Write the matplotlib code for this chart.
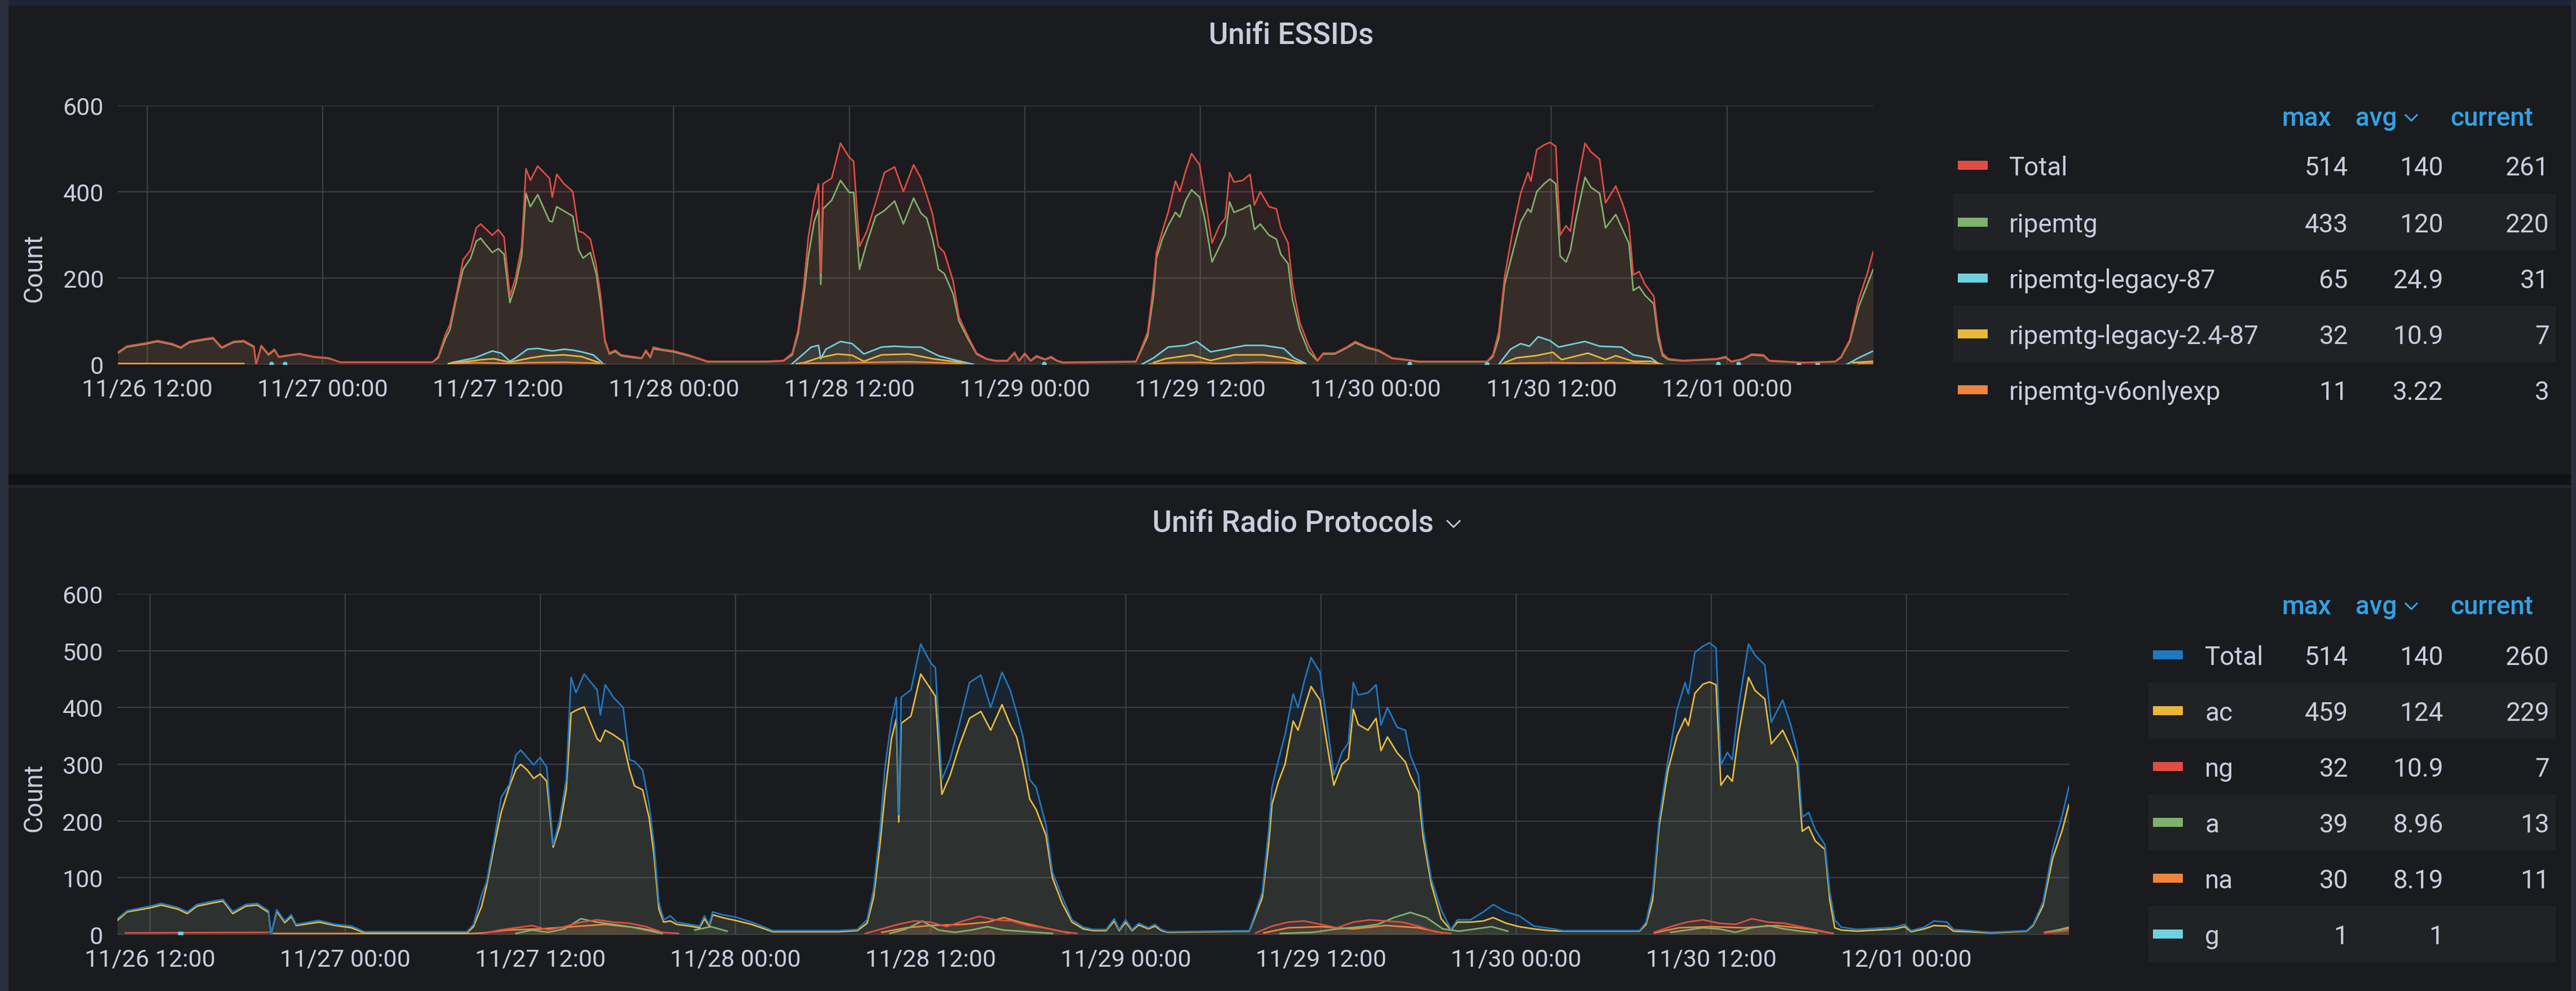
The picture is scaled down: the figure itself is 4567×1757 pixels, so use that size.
import numpy as np
import matplotlib
matplotlib.use("Agg")
import matplotlib.pyplot as plt
from matplotlib.patches import Rectangle
from matplotlib.lines import Line2D

nan = np.nan

# ------------------- DATA -------------------
# time in hours since 11/26 00:00
t_main = [10.0, 10.6, 12.0, 12.7, 13.7, 14.3, 14.9, 15.9, 16.5, 17.1,
          17.9, 18.6, 19.3, 19.45, 19.8, 20.3, 20.7, 21.0, 22.4, 23.4,
          24.4, 25.2, 31.5, 31.9, 32.4, 32.7, 33.2, 33.6, 34.1, 34.5,
          34.8, 35.2, 35.6, 36.0, 36.4, 36.8, 37.2, 37.6, 37.9, 38.2,
          38.7, 39.5, 39.7, 40.0, 40.5, 41.1, 41.5, 41.8, 42.3, 42.7,
          43.0, 43.3, 43.6, 44.0, 44.4, 45.2, 45.8, 46.1, 46.4, 46.6,
          47.2, 48.0, 49.0, 49.8, 50.3, 54.3, 55.5, 56.1, 56.5, 56.9,
          57.2, 57.6, 57.9, 58.05, 58.2, 58.8, 59.4, 60.0, 60.3, 60.7,
          61.2, 61.8, 62.4, 63.1, 63.7, 64.4, 64.9, 65.3, 65.7, 66.1,
          66.5, 67.1, 67.5, 68.1, 68.7, 69.4, 70.0, 70.8, 71.3, 71.6,
          72.0, 72.4, 72.8, 73.4, 73.8, 74.2, 74.6, 79.6, 80.0, 80.4,
          80.8, 81.0, 81.4, 81.8, 82.3, 82.6, 83.0, 83.4, 83.95, 84.3,
          84.8, 85.3, 85.7, 86.0, 86.3, 86.9, 87.4, 87.7, 88.1, 88.7,
          89.2, 89.5, 90.0, 90.3, 90.8, 91.4, 92.0, 92.4, 93.2, 94.0,
          94.6, 95.4, 96.2, 97.1, 98.1, 98.9, 103.6, 104.0, 104.4, 104.8,
          105.35, 105.9, 106.4, 106.6, 107.0, 107.5, 107.9, 108.3, 108.6, 109.0,
          109.3, 109.7, 110.3, 110.7, 111.3, 111.7, 112.4, 112.9, 113.3, 113.6,
          114.0, 114.4, 115.0, 115.3, 115.6, 116.0, 117.0, 119.3, 119.9, 120.3,
          121.1, 121.7, 122.5, 122.9, 123.9, 125.2, 127.4, 127.8, 128.4, 129.0,
          129.6, 130.0]

total = [28, 42, 50, 55, 48, 40, 53, 59, 62, 40,
         53, 55, 42, 0, 44, 24, 35, 18, 25, 18,
         15, 5, 5, 18, 70, 92, 171, 242, 264, 316,
         325, 312, 299, 312, 295, 158, 202, 273, 453, 426,
         459, 431, 387, 440, 418, 400, 308, 305, 290, 229,
         160, 57, 26, 33, 22, 18, 15, 33, 18, 40,
         35, 31, 22, 13, 7, 7, 9, 26, 79, 185,
         294, 378, 418, 211, 418, 431, 512, 479, 470, 273,
         308, 374, 444, 457, 400, 462, 431, 391, 347, 273,
         259, 193, 110, 66, 26, 13, 9, 9, 28, 9,
         26, 9, 20, 12, 18, 9, 5, 7, 40, 75,
         185, 259, 308, 352, 424, 400, 448, 488, 462, 391,
         281, 321, 338, 444, 422, 426, 440, 369, 400, 365,
         360, 316, 281, 185, 97, 44, 9, 26, 26, 40,
         53, 40, 33, 15, 11, 7, 7, 22, 75, 202,
         308, 396, 444, 424, 497, 508, 514, 505, 299, 321,
         308, 404, 512, 492, 475, 374, 413, 369, 325, 207,
         215, 185, 158, 75, 26, 13, 9, 13, 18, 7,
         13, 24, 22, 9, 7, 4, 7, 18, 57, 149,
         211, 261]

ripemtg = [26, 40, 48, 53, 46, 38, 51, 57, 60, 38,
           51, 53, 40, 0, 42, 22, 33, 17, 24, 17,
           14, 5, 5, 15, 60, 80, 163, 220, 245, 285,
           292, 275, 259, 268, 255, 143, 185, 250, 396, 365,
           393, 332, 330, 365, 355, 343, 265, 246, 259, 210,
           140, 53, 24, 30, 20, 16, 14, 30, 16, 36,
           33, 29, 20, 12, 6, 6, 8, 22, 70, 163,
           250, 330, 360, 185, 360, 380, 426, 398, 398, 220,
           281, 343, 356, 378, 325, 385, 350, 338, 290, 220,
           210, 163, 100, 60, 24, 12, 8, 8, 26, 8,
           24, 8, 18, 11, 16, 8, 4, 6, 35, 65,
           160, 246, 290, 321, 352, 341, 380, 404, 387, 338,
           237, 272, 300, 376, 352, 360, 369, 312, 325, 299,
           290, 255, 233, 150, 80, 30, 8, 24, 24, 38,
           50, 38, 31, 14, 10, 6, 6, 18, 60, 185,
           259, 330, 360, 352, 400, 418, 429, 418, 251, 237,
           264, 340, 433, 410, 396, 316, 347, 310, 280, 171,
           180, 160, 140, 60, 20, 11, 8, 12, 16, 6,
           12, 22, 20, 8, 6, 4, 6, 16, 53, 132,
           185, 220]

ac = [25, 40, 47, 52, 45, 37, 50, 56, 59, 37,
      50, 52, 39, 0, 41, 21, 32, 16, 22, 16,
      12, 3, 3, 14, 50, 85, 160, 215, 260, 290,
      300, 290, 275, 283, 270, 154, 190, 255, 390, 395,
      401, 345, 340, 360, 352, 340, 290, 262, 255, 206,
      140, 45, 22, 24, 18, 15, 12, 28, 15, 35,
      30, 25, 18, 10, 5, 5, 7, 20, 65, 160,
      247, 345, 380, 198, 372, 385, 459, 433, 420, 247,
      280, 335, 381, 393, 360, 405, 370, 348, 300, 239,
      220, 175, 100, 55, 22, 10, 7, 7, 24, 7,
      22, 7, 17, 10, 15, 7, 4, 6, 35, 65,
      160, 230, 270, 300, 376, 360, 400, 437, 413, 350,
      263, 300, 310, 397, 370, 360, 381, 324, 348, 320,
      304, 280, 251, 170, 88, 28, 8, 22, 22, 24,
      30, 20, 14, 10, 7, 6, 6, 18, 60, 190,
      290, 350, 381, 368, 425, 441, 445, 440, 263, 280,
      270, 355, 453, 430, 415, 336, 360, 330, 300, 182,
      190, 165, 150, 60, 12, 8, 6, 10, 14, 5,
      10, 16, 15, 6, 5, 3, 6, 16, 50, 134,
      185, 229]

legacy87_t = [32.8, 34.4, 35.6, 36.2, 36.8, 37.2, 38.0, 38.7, 39.7, 40.5, 41.1, 41.7, 42.5, 43.1, nan,
              56.05, 57.4, 57.9, 58.05, 58.4, 59.4, 60.2, 61.0, 62.2, 63.1, 64.1, 64.9, 66.1, 67.1, 68.5, nan,
              80.0, 80.8, 81.8, 83.0, 83.75, 84.7, 85.7, 87.1, 88.3, 89.7, 90.4, 91.2, nan,
              104.4, 105.2, 105.9, 106.5, 107.1, 107.9, 108.5, 109.3, 110.3, 111.3, 112.8, 113.6, 114.8, 115.4, nan,
              128.2, 129.0, 130.0]
legacy87 = [4, 15, 31, 26, 7, 15, 35, 37, 31, 35, 33, 29, 22, 4, nan,
            0, 40, 44, 13, 35, 53, 48, 24, 40, 42, 40, 40, 20, 11, 0, nan,
            0, 15, 40, 44, 53, 29, 35, 44, 44, 37, 15, 2, nan,
            0, 35, 48, 42, 64, 55, 40, 46, 53, 42, 40, 22, 15, 0, nan,
            0, 15, 31]
legacy87_dots_t = [20.5, 21.4, 73.3, 98.3, 103.6, 119.4, 120.8, 124.9, 126.2]
legacy87_dots = [1, 1, 1, 1, 1, 1, 1, 1, 1]

legacy24_t = [10.0, 18.6, nan,
              32.6, 33.2, 34.9, 35.7, 36.8, 38.2, 39.2, 40.5, 41.7, 42.9, nan,
              56.4, 56.9, 57.9, 59.2, 60.2, 61.0, 62.2, 64.1, 65.7, 67.7, nan,
              80.8, 81.6, 83.4, 84.7, 86.3, 88.3, 89.7, 91.0, nan,
              104.8, 105.6, 106.9, 108.1, 108.7, 110.5, 111.7, 112.4, 113.6, 114.8, 115.6, nan,
              128.6, 130.0]
legacy24 = [2, 2, nan,
            2, 4, 11, 13, 5, 15, 20, 22, 18, 4, nan,
            2, 4, 15, 24, 21, 7, 22, 24, 13, 4, nan,
            4, 13, 22, 9, 22, 22, 15, 2, nan,
            4, 15, 20, 28, 11, 26, 11, 20, 7, 7, 0, nan,
            4, 7]

v6_t = [10.0, 18.6, nan,
        33.0, 34.5, 36.8, 38.0, 40.5, 42.5, 43.3, nan,
        56.5, 58.0, 60.0, 62.0, 64.0, 66.0, 68.0, nan,
        80.5, 82.0, 84.0, 85.0, 86.5, 88.0, 90.0, 91.0, nan,
        104.5, 106.0, 108.0, 110.0, 112.0, 114.0, 115.5, nan,
        129.0, 130.0]
v6 = [1, 1, nan,
      2, 4, 2, 4, 5, 3, 0, nan,
      2, 3, 4, 5, 6, 4, 1, nan,
      1, 4, 5, 2, 3, 5, 4, 1, nan,
      1, 3, 4, 3, 4, 3, 0, nan,
      2, 3]

ng_t = [10.5, 19.3, nan,
        32.5, 33.5, 34.5, 35.5, 36.5, 37.5, 38.5, 39.5, 40.5, 41.5, 42.5, 43.5, 44.5, nan,
        56.0, 57.0, 58.0, 59.0, 60.0, 61.0, 62.0, 63.0, 64.0, 65.0, 66.0, 67.0, 68.0, 69.0, nan,
        80.0, 81.0, 82.0, 83.0, 84.0, 85.0, 86.0, 87.0, 88.0, 89.0, 90.0, 91.0, 92.0, nan,
        104.5, 105.5, 106.5, 107.5, 108.5, 109.5, 110.5, 111.5, 112.5, 113.5, 114.5, 115.5, nan,
        128.5, 130.0]
ng = [3, 4, nan,
      2, 8, 12, 16, 8, 14, 22, 26, 22, 20, 14, 4, 2, nan,
      2, 10, 18, 24, 22, 14, 24, 32, 26, 24, 16, 12, 6, 2, nan,
      3, 15, 22, 24, 18, 12, 22, 26, 24, 22, 15, 5, 2, nan,
      4, 14, 22, 26, 20, 18, 28, 22, 20, 14, 8, 2, nan,
      3, 7]

a_t = [34.5, 35.5, 36.5, 37.5, 38.5, 39.5, 40.5, 41.5, 42.5, 43.5, nan,
       45.5, 46.5, 47.5, nan,
       57.5, 58.5, 59.5, 60.5, 61.5, 62.5, 63.5, 64.5, 65.5, 66.5, 67.5, nan,
       81.5, 83.5, 85.0, 86.5, 87.5, 88.5, 89.5, 90.5, 91.5, 92.5, 94.5, 95.5, nan,
       105.5, 106.5, 107.5, 108.5, 109.5, 110.5, 111.5, 112.5, 113.5, 114.5, nan,
       129.0, 130.0]
a = [2, 8, 4, 10, 28, 22, 18, 14, 8, 2, nan,
     8, 14, 6, nan,
     2, 10, 24, 8, 4, 8, 14, 8, 6, 4, 2, nan,
     2, 4, 10, 14, 18, 30, 39, 30, 10, 6, 14, 6, nan,
     4, 8, 12, 10, 4, 12, 16, 10, 6, 3, nan,
     6, 13]

na_t = [19.6, 25.0, 31.8, 32.5, 34.0, 36.0, 38.0, 40.0, 42.0, 43.5, nan,
        57.0, 58.5, 60.0, 62.0, 63.5, 64.5, 65.5, 67.0, 68.5, nan,
        80.5, 82.0, 84.0, 86.0, 88.0, 90.0, 91.5, nan,
        104.5, 106.0, 108.0, 110.0, 112.0, 114.0, 115.5, nan,
        128.5, 130.0]
na = [2, 2, 2, 3, 8, 10, 14, 18, 12, 4, nan,
      4, 12, 16, 18, 22, 30, 22, 12, 3, nan,
      3, 12, 14, 10, 16, 12, 3, nan,
      3, 12, 14, 12, 16, 10, 2, nan,
      4, 11]

g_t = [13.9]
g = [1]

x_ticks = [12, 24, 36, 48, 60, 72, 84, 96, 108, 120]
x_labels = ["11/26 12:00", "11/27 00:00", "11/27 12:00", "11/28 00:00", "11/28 12:00",
            "11/29 00:00", "11/29 12:00", "11/30 00:00", "11/30 12:00", "12/01 00:00"]

ess_names = ["Total", "ripemtg", "ripemtg-legacy-87", "ripemtg-legacy-2.4-87", "ripemtg-v6onlyexp"]
ess_max = ["514", "433", "65", "32", "11"]
ess_avg = ["140", "120", "24.9", "10.9", "3.22"]
ess_cur = ["261", "220", "31", "7", "3"]

proto_names = ["Total", "ac", "ng", "a", "na", "g"]
proto_max = ["514", "459", "32", "39", "30", "1"]
proto_avg = ["140", "124", "10.9", "8.96", "8.19", "1"]
proto_cur = ["260", "229", "7", "13", "11", ""]

# ------------------- STYLE -------------------
W, H = 4567, 1758
RED, GREEN, CYAN = "#E24D42", "#7EB26D", "#6ED0E0"
YELLOW, ORANGE, BLUE = "#EAB839", "#EF843C", "#1F78C1"
PANEL = "#1a1b1f"
TEXT = "#ccccdc"
HEAD = "#33a2e5"
GRID = "#3c3f44"
LW = 2.0

plt.rcParams["font.family"] = ["Roboto", "DejaVu Sans"]


def fx(x):
    return x / W


def fy(y):
    return 1 - y / H


def rect(fig, x0, y0, x1, y1, color, z=-10):
    fig.patches.append(Rectangle((fx(x0), fy(y1)), (x1 - x0) / W, (y1 - y0) / H,
                                 transform=fig.transFigure, color=color, zorder=z, lw=0))


def chevron(fig, xc, yc, w=23, h=11, lw=2.0):
    fig.lines.append(Line2D([fx(xc - w / 2), fx(xc), fx(xc + w / 2)],
                            [fy(yc - h / 2), fy(yc + h / 2), fy(yc - h / 2)],
                            transform=fig.transFigure, color=TEXT, lw=lw))


def series(ax, t, v, color, fill=True):
    t = np.array(t, dtype=float)
    v = np.array(v, dtype=float)
    if fill:
        ax.fill_between(t, v, 0, color=color, alpha=0.1, lw=0)
    ax.plot(t, v, color=color, lw=LW)


def style_axis(ax, yticks):
    ax.set_facecolor("none")
    ax.set_xlim(10, 130)
    ax.set_ylim(0, 600)
    ax.set_xticks(x_ticks)
    ax.set_xticklabels(x_labels)
    ax.set_yticks(yticks)
    ax.grid(True, color=GRID, lw=1.6)
    ax.set_axisbelow(True)
    for s in ax.spines.values():
        s.set_visible(False)
    ax.tick_params(axis="both", length=0, labelsize=31, colors=TEXT)
    ax.tick_params(axis="x", pad=17)
    ax.tick_params(axis="y", pad=18)


def legend(fig, rows_y, head_y, names, colors, vmax, vavg, vcur, sw_x, name_x, stripe_x0):
    fig.text(fx(4133), fy(head_y), "max", ha="right", va="baseline",
             fontsize=33, color=HEAD, weight="medium")
    fig.text(fx(4250), fy(head_y), "avg", ha="right", va="baseline",
             fontsize=33, color=HEAD, weight="medium")
    chevron(fig, 4275, head_y - 13, w=20, h=10, lw=2.2)
    fig.lines[-1].set_color(HEAD)
    fig.text(fx(4491), fy(head_y), "current", ha="right", va="baseline",
             fontsize=33, color=HEAD, weight="medium")
    for i, y in enumerate(rows_y):
        if i % 2 == 1:
            rect(fig, stripe_x0, y - 50, 4531, y + 50, "#212226", z=-5)
        rect(fig, sw_x, y - 8, sw_x + 53, y + 8, colors[i], z=2)
        fig.text(fx(name_x), fy(y + 17), names[i], ha="left", va="baseline", fontsize=33, color=TEXT)
        fig.text(fx(4163), fy(y + 17), vmax[i], ha="right", va="baseline", fontsize=33, color=TEXT)
        fig.text(fx(4332), fy(y + 17), vavg[i], ha="right", va="baseline", fontsize=33, color=TEXT)
        fig.text(fx(4520), fy(y + 17), vcur[i], ha="right", va="baseline", fontsize=33, color=TEXT)


def main():
    fig = plt.figure(figsize=(W / 100, H / 100), dpi=100)
    fig.patch.set_facecolor("#111217")

    # page chrome
    rect(fig, 0, 0, W, 11, "#1f2436")
    rect(fig, 0, 0, 15, H, "#2b2f3d")
    rect(fig, 4558, 0, W, H, "#2b2f3d")
    rect(fig, 15, 11, 4558, 842, PANEL)
    rect(fig, 15, 861, 4558, 866, "#232429")
    rect(fig, 15, 866, 4558, H, PANEL)

    # --- top panel: Unifi ESSIDs ---
    ax1 = fig.add_axes([fx(209), fy(647), (3321 - 209) / W, (647 - 187.5) / H])
    style_axis(ax1, [0, 200, 400, 600])
    series(ax1, legacy87_t, legacy87, CYAN)
    ax1.plot(legacy87_dots_t, legacy87_dots, "o", color=CYAN, ms=5)
    series(ax1, legacy24_t, legacy24, YELLOW)
    series(ax1, v6_t, v6, ORANGE)
    series(ax1, t_main, ripemtg, GREEN)
    series(ax1, t_main, total, RED)

    fig.text(fx(2289), fy(78), "Unifi ESSIDs", ha="center", va="baseline",
             fontsize=38, color=TEXT, weight="medium")
    fig.text(fx(60), fy(475), "Count", rotation=90, ha="center", va="center",
             fontsize=33, color=TEXT)
    legend(fig, [294, 395, 494, 593, 692], 223, ess_names,
           [RED, GREEN, CYAN, YELLOW, ORANGE], ess_max, ess_avg, ess_cur,
           3471, 3562, 3463)

    # --- bottom panel: Unifi Radio Protocols ---
    ax2 = fig.add_axes([fx(208), fy(1658), (3668 - 208) / W, (1658 - 1054) / H])
    style_axis(ax2, [0, 100, 200, 300, 400, 500, 600])
    series(ax2, na_t, na, ORANGE)
    series(ax2, a_t, a, GREEN)
    series(ax2, ng_t, ng, RED)
    ax2.plot(g_t, g, "s", color=CYAN, ms=6)
    series(ax2, t_main, ac, YELLOW)
    series(ax2, t_main, total, BLUE)

    fig.text(fx(2292), fy(943), "Unifi Radio Protocols", ha="center", va="baseline",
             fontsize=38, color=TEXT, weight="medium")
    chevron(fig, 2577, 930, w=22, h=11, lw=2.0)
    fig.text(fx(60), fy(1414), "Count", rotation=90, ha="center", va="center",
             fontsize=33, color=TEXT)
    legend(fig, [1162, 1261, 1360, 1459, 1558, 1657], 1089, proto_names,
           [BLUE, YELLOW, RED, GREEN, ORANGE, CYAN], proto_max, proto_avg, proto_cur,
           3817, 3909, 3809)

    fig.savefig("out.png", dpi=100, facecolor=fig.get_facecolor())


if __name__ == "__main__":
    main()
